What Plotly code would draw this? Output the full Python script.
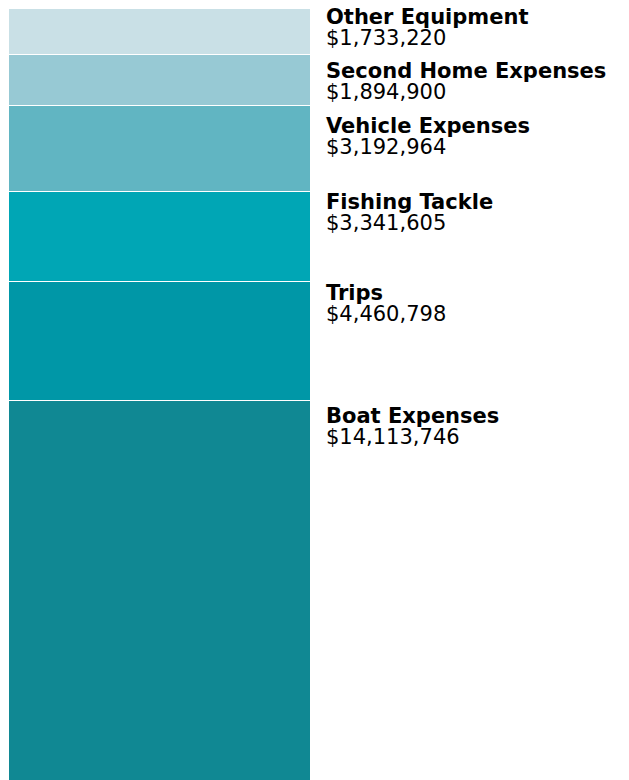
import plotly.graph_objects as go

categories = ["Boat Expenses", "Trips", "Fishing Tackle", "Vehicle Expenses",
              "Second Home Expenses", "Other Equipment"]
values = [14113746, 4460798, 3341605, 3192964, 1894900, 1733220]
colors = ["#108893", "#0097a7", "#00a6b5", "#61b5c2", "#97c9d4", "#c9e0e6"]
# pixel offset of each label's cap top below the top of its segment
label_offsets = [8, 5, 4, 14, 9, 2]

FS = 21
CAP_PAD = 7      # distance from annotation box top to cap top
LINE_GAP = 21    # baseline-to-baseline distance between name and value

total = sum(values)
fig = go.Figure()
cum = 0
for cat, v, c, off in zip(categories, values, colors, label_offsets):
    fig.add_trace(go.Bar(
        x=["all"], y=[v], name=cat,
        marker=dict(color=c, line=dict(color="white", width=1)),
        width=1, hoverinfo="skip"))
    cum += v
    ys = CAP_PAD - off
    fig.add_annotation(
        xref="paper", x=1, xanchor="left", xshift=14,
        yref="y", y=cum, yanchor="top", yshift=ys,
        text=f"<b>{cat}</b>", showarrow=False, align="left",
        font=dict(family="DejaVu Sans", size=FS, color="#000"))
    fig.add_annotation(
        xref="paper", x=1, xanchor="left", xshift=14,
        yref="y", y=cum, yanchor="top", yshift=ys - LINE_GAP,
        text=f"${v:,}", showarrow=False, align="left",
        font=dict(family="DejaVu Sans", size=FS, color="#000"))

fig.update_layout(
    barmode="stack", width=621, height=772,
    margin=dict(l=0, r=319, t=0, b=0),
    plot_bgcolor="white", paper_bgcolor="white", showlegend=False,
    xaxis=dict(visible=False, range=[-0.5, 0.5]),
    yaxis=dict(visible=False, range=[0, total]),
)
fig.write_html("out.html")
